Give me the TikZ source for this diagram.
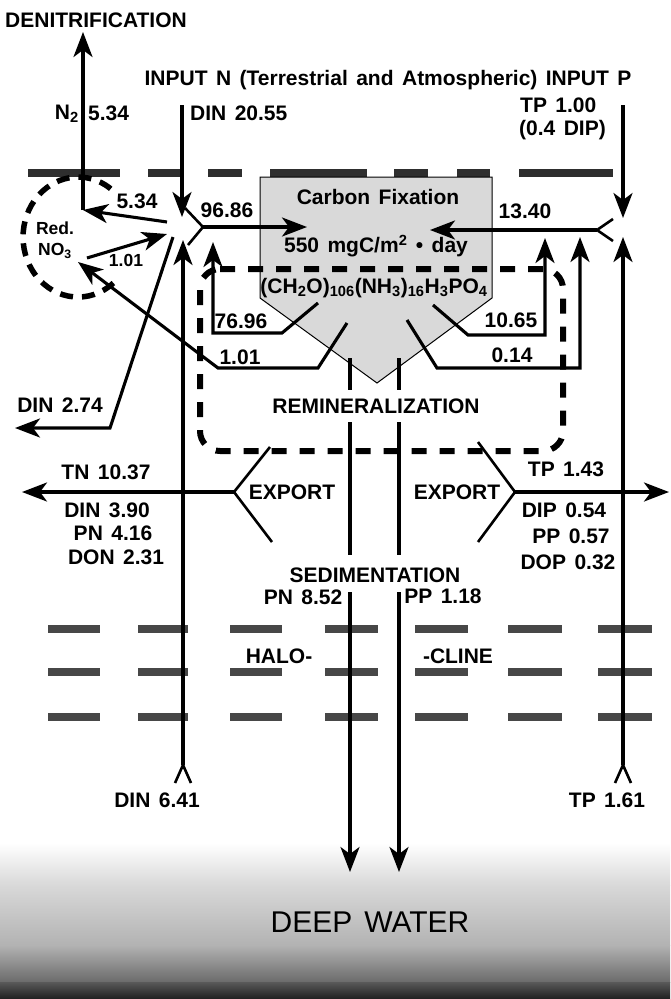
\documentclass[tikz,border=0pt]{standalone}
\usepackage{fontspec}
\setmainfont{Liberation Sans}[WordSpace=1.45]
\usetikzlibrary{arrows.meta}
\begin{document}
\begin{tikzpicture}[x=1pt,y=-1pt,
  lbl/.style={font=\fontsize{21}{23}\selectfont\bfseries, inner sep=0pt},
  smalllbl/.style={font=\fontsize{17.5}{19}\selectfont\bfseries, inner sep=0pt},
  fline/.style={line width=3.1pt, -{Stealth[length=25pt,width=19pt,inset=7pt]}},
  pline/.style={line width=3.1pt},
  legline/.style={line width=2.6pt},
  dashbox/.style={line width=6pt, dash pattern=on 15pt off 13pt},
  surf/.style={fill=black!82},
  halo/.style={fill=black!72},
]
\useasboundingbox (0,0) rectangle (670,999);
% deep water
\shade[top color=white, bottom color=black!15] (0,843) rectangle (670,885);
\shade[top color=black!15, bottom color=black!30] (0,885) rectangle (670,945);
\shade[top color=black!30, bottom color=black!58] (0,945) rectangle (670,982);
\shade[top color=black!65, bottom color=black!88] (0,982) rectangle (670,999);
\node[font=\fontsize{30}{32}\selectfont, inner sep=0pt] (deep) at (370,922) {DEEP WATER};
% surface
\foreach \a/\b in {28/120,148/182,208/242,270/367,394/428,457/490,519/613}
  \fill[surf] (\a,169) rectangle (\b,177);
% halocline
\foreach \yy in {629,672,717}
  \foreach \a/\b in {48/100,138/188,230/282,325/378,415/468,508/562,598/652}
    \fill[halo] (\a,\yy-4) rectangle (\b,\yy+4);
% carbon fixation box
\filldraw[fill=black!15, draw=black, line width=1pt] (260,177) -- (492,177) -- (492,298) -- (377,383) -- (260,298) -- cycle;
% remineralization dashed box
\draw[dashbox, rounded corners=20pt] (200,269) -- (563,269) -- (563,451) -- (200,451) -- cycle;
% Red NO3 dashed arc
\draw[line width=5.5pt, dash pattern=on 13pt off 9pt] (113.4,283) arc[start angle=50, end angle=310, x radius=55, y radius=60];

% coordinates
\coordinate (hubA) at (167,222);
\coordinate (n2c) at (83,210);
\coordinate (denitTip) at (83,32);
\coordinate (no3out) at (87,258);
\coordinate (hubB) at (167,234);
\coordinate (hubC) at (173,237);
\coordinate (d274a) at (110,428);
\coordinate (d274tip) at (15,428);
\coordinate (dinTop) at (182,105);
\coordinate (dinTip) at (182,217);
\coordinate (fkL) at (203,227);
\coordinate (fkLa) at (185,208);
\coordinate (fkLb) at (188,245);
\coordinate (c9686) at (307,227);
\coordinate (fkR) at (597,230);
\coordinate (fkRa) at (613,219);
\coordinate (fkRb) at (613,241);
\coordinate (c1340) at (430,230);
\coordinate (pTop) at (623,105);
\coordinate (pTip) at (623,218);
\coordinate (dinBot) at (183,765);
\coordinate (dinUp) at (183,240);
\coordinate (tpBot) at (623,765);
\coordinate (tpUp) at (623,237);

% denitrification
\draw[fline] (hubA) -- (n2c);
\draw[fline] (n2c) -- (denitTip);
\draw[fline] (no3out) -- (hubB);
\draw[fline] (hubC) -- (d274a) -- (d274tip);
% inputs
\draw[fline] (dinTop) -- (dinTip);
\draw[fline] (pTop) -- (pTip);
% uptake
\draw[legline] (fkLa) -- (fkL) -- (fkLb);
\draw[fline] (fkL) -- (c9686);
\draw[legline] (fkRa) -- (fkR) -- (fkRb);
\draw[fline] (fkR) -- (c1340);
% upwelling from below
\draw[legline] (175,783) -- (dinBot) -- (191,783);
\draw[fline] (dinBot) -- (dinUp);
\draw[legline] (615,783) -- (tpBot) -- (631,783);
\draw[fline] (tpBot) -- (tpUp);
% remineralization returns
\draw[fline] (318,303) -- (282,333) -- (213,333) -- (213,242);
\draw[fline] (347,323) -- (318,368) -- (218,368) -- (78,262);
\draw[fline] (433,305) -- (468,335) -- (545,335) -- (545,238);
\draw[fline] (407,320) -- (437,368) -- (580,368) -- (580,237);
% sedimentation
\foreach \xx in {350,399} {
  \draw[pline] (\xx,358) -- (\xx,390);
  \draw[pline] (\xx,422) -- (\xx,555);
  \draw[fline] (\xx,592) -- (\xx,872);
}
% export
\coordinate (exL) at (234,492);
\coordinate (exLtip) at (22,492);
\coordinate (exR) at (515,492);
\coordinate (exRtip) at (669,492);
\draw[legline] (270,447) -- (exL) -- (272,542);
\draw[fline] (exL) -- (exLtip);
\draw[legline] (478,442) -- (exR) -- (478,542);
\draw[fline] (exR) -- (exRtip);

% labels
\node[lbl] (denit) at (96,20) {DENITRIFICATION};
\node[lbl] (inp) at (388,80) {INPUT N (Terrestrial and Atmospheric) INPUT P};
\node[lbl, anchor=east] (n2) at (79,114) {N\textsubscript{2}};
\node[lbl, anchor=west] (n2v) at (88,113) {5.34};
\node[lbl, anchor=west] (din2055) at (190,113) {DIN 20.55};
\node[lbl, anchor=west] (tp100) at (520,105) {TP 1.00};
\node[lbl, anchor=west] (dip04) at (519,130) {(0.4 DIP)};
\node[lbl] (v534) at (137,201) {5.34};
\node[lbl] (v9686) at (227,210) {96.86};
\node[lbl] (cfix) at (378,197) {Carbon Fixation};
\node[lbl] (v1340) at (525,211) {13.40};
\node[smalllbl] (red) at (55,228) {Red.};
\node[smalllbl] (no3) at (55,251) {NO\textsubscript{3}};
\node[smalllbl] (v101a) at (126,260) {1.01};
\node[lbl] (rate) at (376,246) {550 mgC/m\textsuperscript{2} • day};
\node[lbl] (redf) at (374,288) {(CH\textsubscript{2}O)\textsubscript{106}(NH\textsubscript{3})\textsubscript{16}H\textsubscript{3}PO\textsubscript{4}};
\node[lbl] (v7696) at (241,321) {76.96};
\node[lbl] (v1065) at (511,320) {10.65};
\node[lbl] (v101b) at (240,357) {1.01};
\node[lbl] (v014) at (512,355) {0.14};
\node[lbl] (remin) at (376,406) {REMINERALIZATION};
\node[lbl] (din274) at (60,405) {DIN 2.74};
\node[lbl] (tn) at (106,472) {TN 10.37};
\node[lbl] (din390) at (107,510) {DIN 3.90};
\node[lbl] (pn416) at (113,533) {PN 4.16};
\node[lbl] (don231) at (116,557) {DON 2.31};
\node[lbl] (expL) at (292,492) {EXPORT};
\node[lbl] (expR) at (457,492) {EXPORT};
\node[lbl] (tp143) at (566,469) {TP 1.43};
\node[lbl] (dip054) at (564,510) {DIP 0.54};
\node[lbl] (pp057) at (571,536) {PP 0.57};
\node[lbl] (dop032) at (568,562) {DOP 0.32};
\node[lbl] (sedi) at (375,575) {SEDIMENTATION};
\node[lbl] (pn852) at (303,597) {PN 8.52};
\node[lbl] (pp118) at (443,596) {PP 1.18};
\node[lbl] (halo1) at (279,656) {HALO-};
\node[lbl] (halo2) at (458,656) {-CLINE};
\node[lbl] (din641) at (157,800) {DIN 6.41};
\node[lbl] (tp161) at (607,800) {TP 1.61};
\end{tikzpicture}
\end{document}
